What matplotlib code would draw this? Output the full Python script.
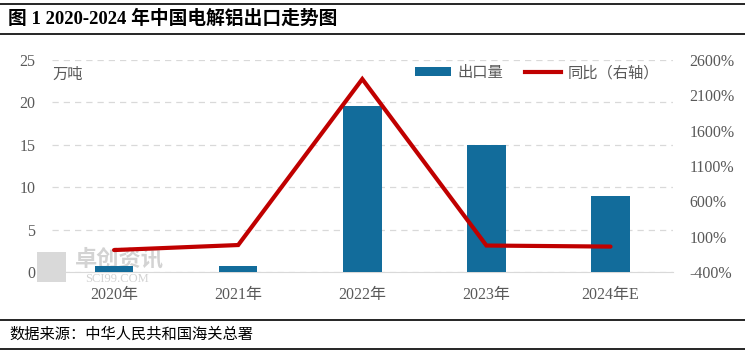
import matplotlib.pyplot as plt
from matplotlib.lines import Line2D
from matplotlib.patches import Patch

plt.rcParams['font.family'] = ['Liberation Serif', 'Noto Sans CJK SC']

years = ["2020年", "2021年", "2022年", "2023年", "2024年E"]
export_wt = [0.73, 0.73, 19.6, 15.0, 9.0]      # 万吨
yoy_pct = [-89, -18, 2330, -25, -40]           # %

bar_color = "#126C9B"
line_color = "#C00000"
text_color = "#595959"

fig = plt.figure(figsize=(7.45, 3.57), dpi=100)
ax1 = fig.add_axes([0.0698, 0.238, 0.833, 0.594])
ax1.patch.set_alpha(0)
ax2 = ax1.twinx()

x = range(len(years))
ax1.bar(x, export_wt, width=0.31, color=bar_color, zorder=3)
ax2.plot(x, yoy_pct, color=line_color, linewidth=3, solid_capstyle="round",
         solid_joinstyle="miter", zorder=4)

ax1.set_xlim(-0.5, 4.5)
ax1.set_ylim(0, 25)
ax1.set_yticks([0, 5, 10, 15, 20, 25])
ax2.set_ylim(-400, 2600)
ax2.set_yticks([-400, 100, 600, 1100, 1600, 2100, 2600])
ax2.set_yticklabels([f"{v}%" for v in range(-400, 2601, 500)])

ax1.set_xticks(list(x))
ax1.set_xticklabels(years)
ax1.grid(axis="y", color="#D9D9D9", linestyle=(0, (5, 4)), linewidth=0.9, zorder=0)

for ax in (ax1, ax2):
    for side in ("top", "left", "right"):
        ax.spines[side].set_visible(False)
    ax.tick_params(length=0, labelsize=11.5, labelcolor=text_color)
ax2.spines["bottom"].set_visible(False)
ax1.spines["bottom"].set_color("#D9D9D9")
ax1.tick_params(axis="x", pad=11)
ax1.tick_params(axis="y", pad=12)
ax2.tick_params(axis="y", pad=12)

ax1.text(0.0, 0.91, "万吨", transform=ax1.transAxes, fontsize=11,
         color=text_color, family="Noto Sans CJK SC")

# legend
handles = [Patch(facecolor=bar_color, label="出口量"),
           Line2D([0], [0], color=line_color, linewidth=3, label="同比（右轴）")]
leg = ax1.legend(handles=handles, loc="upper right", bbox_to_anchor=(1.0, 1.045),
                 ncol=2, frameon=False, handlelength=2.4,
                 handleheight=0.5, columnspacing=1.4, handletextpad=0.4,
                 prop={"family": "Noto Sans CJK SC", "size": 11})
for t in leg.get_texts():
    t.set_color(text_color)

# watermark (drawn beneath the plot)
fig.text(0.161, 0.274, "卓创资讯", fontsize=16, color="#C8C8C8", alpha=0.8,
         family="Noto Sans CJK SC", fontweight="bold", ha="center", va="center",
         zorder=-1)
fig.text(0.157, 0.218, "SCI99.COM", fontsize=9, color="#C8C8C8", alpha=0.8,
         family="Liberation Serif", ha="center", va="center", zorder=-1)
fig.patches.append(plt.Rectangle((0.049, 0.21), 0.04, 0.085, transform=fig.transFigure,
                                 facecolor="#D0D0D0", alpha=0.8, edgecolor="none",
                                 zorder=-1))

# title and source frame
for yy in (0.99, 0.905, 0.104, 0.022):
    fig.add_artist(Line2D([0, 1], [yy, yy], color="black", linewidth=1.2,
                          transform=fig.transFigure))
fig.text(0.011, 0.947, "图 1 2020-2024 年中国电解铝出口走势图", fontsize=13.5,
         fontweight="bold", family=["Liberation Serif", "Noto Sans CJK SC"],
         ha="left", va="center")
fig.text(0.013, 0.063, "数据来源：中华人民共和国海关总署", fontsize=11,
         family="Noto Sans CJK SC", ha="left", va="center")

fig.savefig("out.png", dpi=100)
